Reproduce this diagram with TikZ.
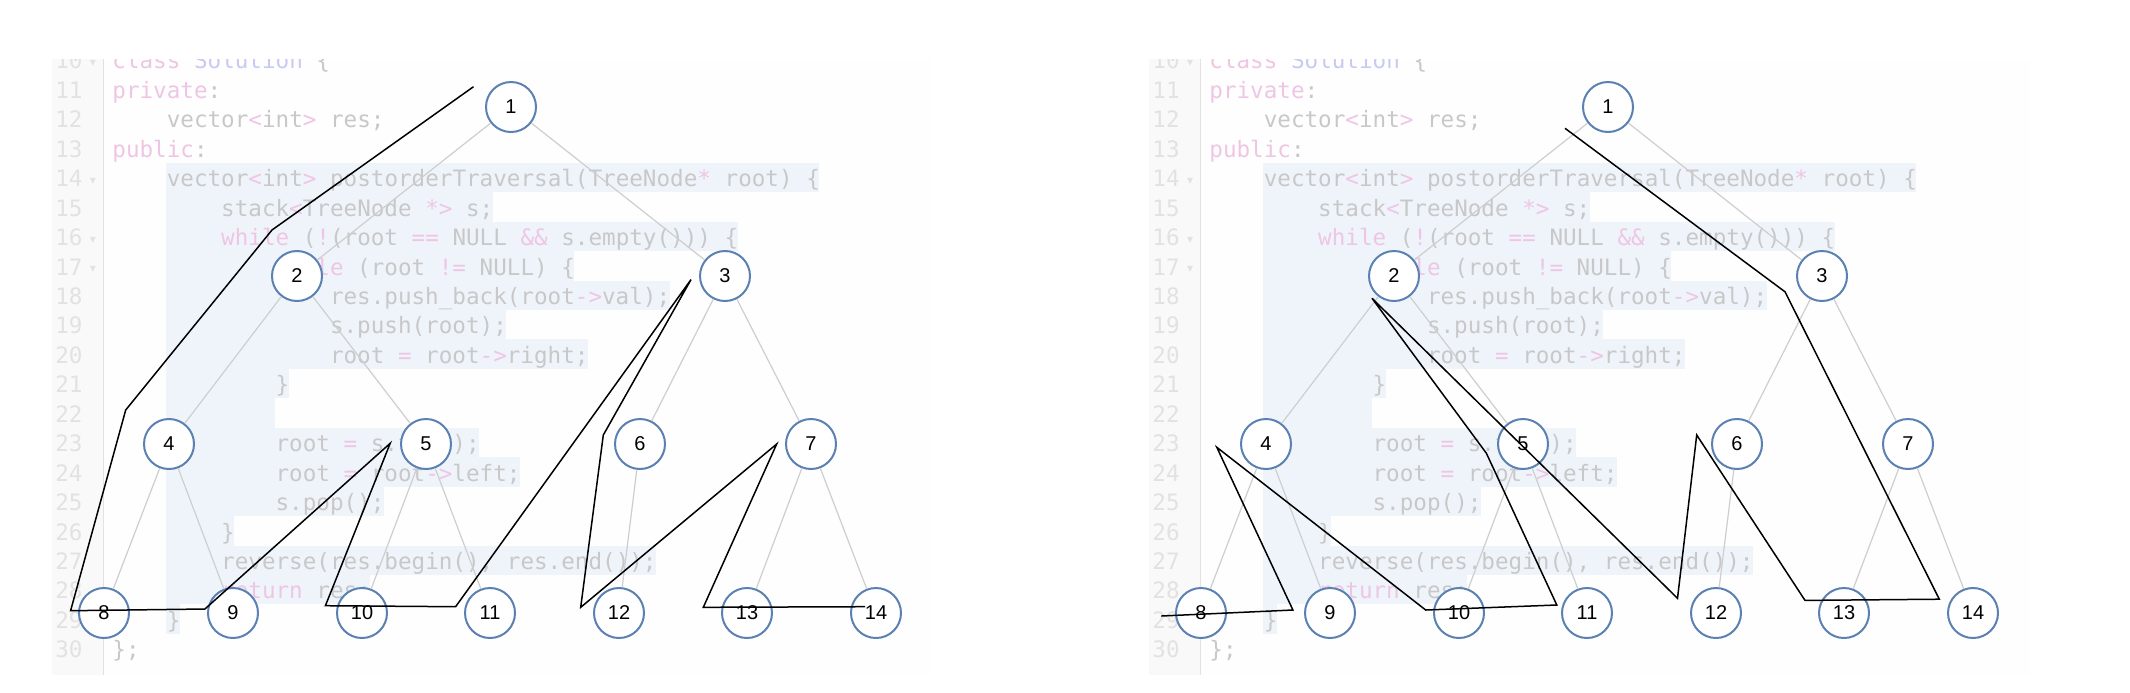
\documentclass[tikz,border=0pt]{standalone}
\usepackage{fontspec}
\setmainfont{Liberation Sans}
\setmonofont{DejaVu Sans Mono}
\newfontfamily\symfont{DejaVu Sans}
\usepackage{tikz}

\definecolor{nodeblue}{RGB}{91,128,178}
\definecolor{edgegrey}{RGB}{206,206,206}
\definecolor{codegrey}{RGB}{200,200,200}
\definecolor{kwpink}{RGB}{238,198,228}
\definecolor{clslav}{RGB}{200,202,242}
\definecolor{numgrey}{RGB}{226,226,226}
\definecolor{hlblue}{RGB}{239,244,251}
\definecolor{gutterbg}{RGB}{249,249,249}
\definecolor{panelbg}{RGB}{254,254,254}

\newcommand{\kw}[1]{\textcolor{kwpink}{#1}}
\newcommand{\cls}[1]{\textcolor{clslav}{#1}}

\begin{document}
\begin{tikzpicture}[x=0.5pt, y=-0.5pt,
    treenode/.style={circle, draw=nodeblue, line width=1pt, fill=white, minimum size=25pt, inner sep=0pt, font=\fontsize{10}{11}\selectfont},
    edge/.style={draw=edgegrey, line width=0.6pt},
    trail/.style={draw=black, line width=0.75pt},
    codeline/.style={anchor=base west, inner sep=0pt, text=codegrey, font=\ttfamily\fontsize{11.3}{13}\selectfont},
    lineno/.style={anchor=base east, inner sep=0pt, text=numgrey, font=\ttfamily\fontsize{11.3}{13}\selectfont},
    fold/.style={anchor=base, inner sep=0pt, text=numgrey, font=\symfont\fontsize{6}{7}\selectfont}
  ]
  \useasboundingbox (0,0) rectangle (2130,692);

  \foreach \dx/\side in {0/L, 1097/R} {
    \fill[panelbg] ({52+\dx},59) rectangle ({933+\dx},675);
    \fill[gutterbg] ({52+\dx},59) rectangle ({103+\dx},675);
    \draw[numgrey, line width=0.4pt] ({103+\dx},59) -- ({103+\dx},675);
    \foreach \k/\e in {14/52, 15/28, 16/46, 17/34, 18/41, 19/29, 20/35, 21/13, 22/12, 23/27, 24/30, 25/20, 26/9, 27/40, 28/19, 29/5}
      \fill[hlblue] ({166.4+\dx},{162.7+29.45*(\k-14)}) rectangle ({112+13.6*\e+\dx},{162.7+29.45*(\k-13)});
    \begin{scope}
      \clip ({52+\dx},59) rectangle ({933+\dx},675);
      \foreach \k in {10,...,30}
        \node[lineno] at ({83+\dx},{98.3+29.45*(\k-11)}) {\k};
      \foreach \k in {10,14,16,17}
        \node[fold] at ({93+\dx},{96+29.45*(\k-11)}) {▾};
      \foreach \k/\ind/\txt in {
          10/0/{\kw{class} \cls{Solution} \{},
          11/0/{\kw{private}:},
          12/4/{vector\kw{<}int\kw{>} res;},
          13/0/{\kw{public}:},
          14/4/{vector\kw{<}int\kw{>} postorderTraversal(TreeNode\kw{*} root) \{},
          15/8/{stack\kw{<}TreeNode \kw{*>} s;},
          16/8/{\kw{while} (\kw{!}(root \kw{==} NULL \kw{\&\&} s.empty())) \{},
          17/12/{\kw{while} (root \kw{!=} NULL) \{},
          18/16/{res.push\_back(root\kw{->}val);},
          19/16/{s.push(root);},
          20/16/{root \kw{=} root\kw{->}right;},
          21/12/{\}},
          23/12/{root \kw{=} s.top();},
          24/12/{root \kw{=} root\kw{->}left;},
          25/12/{s.pop();},
          26/8/{\}},
          27/8/{reverse(res.begin(), res.end());},
          28/8/{\kw{return} res;},
          29/4/{\}},
          30/0/{\};}}
        \node[codeline] at ({112+13.6*\ind+\dx},{98.3+29.45*(\k-11)}) {\txt};
    \end{scope}
    \foreach \n/\x/\y in {1/511/107, 2/297/276, 3/725/276, 4/169/444, 5/426/444, 6/640/444, 7/811/444,
        8/104/613, 9/233/613, 10/362/613, 11/490/613, 12/619/613, 13/747/613, 14/876/613}
      \node[treenode] (\side\n) at ({\x+\dx},\y) {\n};
    \foreach \p/\c in {1/2, 1/3, 2/4, 2/5, 3/6, 3/7, 4/8, 4/9, 5/10, 5/11, 6/12, 7/13, 7/14}
      \draw[edge] (\side\p) -- (\side\c);
  }

  \draw[trail] (473.5,86.7) -- (272,230) -- (125.7,410) -- (70.6,610.7) -- (204.9,609) -- (390.2,443.3)
    -- (325.4,605.7) -- (455.6,606.7) -- (691,279.6) -- (603.3,435) -- (580.7,607.3) -- (776.7,444)
    -- (703.3,607.3) -- (865,606.7);
  \draw[trail] (1565,128.3) -- (1785,291.8) -- (1939.3,599.2) -- (1805,600.4) -- (1696.7,435) -- (1677.5,598.3)
    -- (1372,298.3) -- (1486.4,453.3) -- (1556.8,605) -- (1425.7,610) -- (1216.8,447.3) -- (1292.9,610)
    -- (1161.4,616);
\end{tikzpicture}
\end{document}
